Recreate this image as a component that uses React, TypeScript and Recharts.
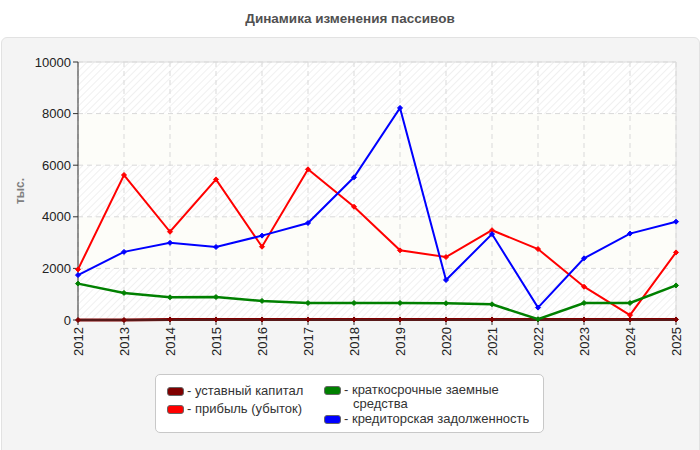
import React from 'react';
import { LineChart, Line, XAxis, YAxis, CartesianGrid, ReferenceLine } from 'recharts';

const years = ['2012', '2013', '2014', '2015', '2016', '2017', '2018', '2019', '2020', '2021', '2022', '2023', '2024', '2025'];
const capital = [0, 0, 20, 20, 20, 20, 20, 20, 20, 20, 20, 20, 20, 20];
const profit = [1960, 5620, 3420, 5450, 2840, 5840, 4390, 2700, 2440, 3480, 2750, 1290, 190, 2620];
const shortLoans = [1410, 1050, 880, 890, 740, 660, 660, 660, 650, 610, 30, 660, 660, 1340];
const payables = [1740, 2640, 2990, 2830, 3270, 3760, 5530, 8220, 1550, 3330, 480, 2390, 3350, 3810];
const yTicks = [0, 2000, 4000, 6000, 8000, 10000];

const series = [
  { key: 'capital', name: 'уставный капитал', color: '#800000', width: 3 },
  { key: 'profit', name: 'прибыль (убыток)', color: '#ff0000', width: 2 },
  { key: 'shortLoans', name: 'краткосрочные заемные средства', color: '#008000', width: 2.5 },
  { key: 'payables', name: 'кредиторская задолженность', color: '#0000ff', width: 2 },
];

const data = years.map((year, i) => ({
  year,
  capital: capital[i],
  profit: profit[i],
  shortLoans: shortLoans[i],
  payables: payables[i],
}));

const FONT = '"Liberation Sans", Arial, sans-serif';

// small diamond marker
const Diamond = (color: string) => (props: any) => {
  const { cx, cy, index } = props;
  if (cx == null || cy == null) return null;
  return (
    <path
      key={`d-${index}`}
      d={`M${cx},${cy - 2.5} L${cx + 2.5},${cy} L${cx},${cy + 2.5} L${cx - 2.5},${cy} Z`}
      fill={color}
      stroke={color}
    />
  );
};

const XTick = ({ x, y, payload }: any) => (
  <text
    x={x}
    y={y}
    transform={`rotate(-90, ${x}, ${y})`}
    textAnchor="end"
    dy="0.36em"
    fontSize={13}
    fill="#222"
    fontFamily={FONT}
  >
    {payload.value}
  </text>
);

const YLabel = () => (
  <text
    x={20}
    y={191}
    transform="rotate(-90, 20, 191)"
    textAnchor="middle"
    dominantBaseline="central"
    fontSize={12}
    fontWeight="bold"
    fill="#808080"
    fontFamily={FONT}
  >
    тыс.
  </text>
);

const Swatch = ({ color }: { color: string }) => (
  <div
    style={{
      width: 15,
      height: 7,
      background: color,
      border: '1px solid #666',
      borderRadius: 3,
      marginTop: 3,
      marginRight: 3,
      flex: 'none',
    }}
  />
);

const LegendItem = ({ color, lines, style }: any) => (
  <div style={{ display: 'flex', alignItems: 'flex-start', position: 'absolute', ...style }}>
    <Swatch color={color} />
    <div>
      {lines.map((l: string, i: number) => (
        <div key={i} style={{ paddingLeft: i > 0 ? 9 : 0, whiteSpace: 'nowrap' }}>
          {i === 0 ? '- ' + l : l}
        </div>
      ))}
    </div>
  </div>
);

export default function App() {
  return (
    <div style={{ position: 'absolute', left: 0, top: 0, width: 700, height: 450, background: '#fff', fontFamily: FONT, overflow: 'hidden' }}>
      <div style={{ position: 'absolute', left: 0, top: 11, width: 700, textAlign: 'center', fontSize: 13.5, fontWeight: 'bold', color: '#505050' }}>
        Динамика изменения пассивов
      </div>
      <div style={{ position: 'absolute', left: 1, top: 37, width: 697, height: 420, background: '#f4f4f4', border: '1px solid #e2e2e2', borderRadius: 6 }} />
      <div style={{ position: 'absolute', left: 0, top: 0 }}>
        <LineChart width={700} height={450} data={data} margin={{ top: 62, right: 24, bottom: 80, left: 18 }}>
          <defs>
            <pattern id="hatch" width="5" height="5" patternUnits="userSpaceOnUse" patternTransform="rotate(45)">
              <rect width="5" height="5" fill="#ffffff" />
              <line x1="0" y1="0" x2="0" y2="5" stroke="#ececec" strokeWidth="1.5" />
            </pattern>
          </defs>
          <CartesianGrid
            stroke="#d9d9d9"
            strokeDasharray="5 4"
            fill="transparent"
            horizontalFill={['url(#hatch)', '#fdfdf9']}
            fillOpacity={1}
          />
          <ReferenceLine y={10000} stroke="#dcdcdc" />
          <ReferenceLine x="2025" stroke="#dcdcdc" />
          <XAxis
            dataKey="year"
            interval={0}
            height={50}
            tick={<XTick />}
            tickSize={5}
            axisLine={{ stroke: '#333' }}
            tickLine={{ stroke: '#333' }}
          />
          <YAxis
            width={60}
            domain={[0, 10000]}
            ticks={yTicks}
            tickSize={5}
            tick={{ fontSize: 13, fill: '#222', fontFamily: FONT }}
            axisLine={{ stroke: '#333' }}
            tickLine={{ stroke: '#333' }}
            label={<YLabel />}
          />
          {series.map((s) => (
            <Line
              key={s.key}
              dataKey={s.key}
              name={s.name}
              stroke={s.color}
              strokeWidth={s.width}
              dot={Diamond(s.color)}
              activeDot={false}
              isAnimationActive={false}
            />
          ))}
        </LineChart>
      </div>
      <div style={{ position: 'absolute', left: 155, top: 374, width: 387, height: 57, background: '#fff', border: '1px solid #c8c8c8', borderRadius: 5, fontSize: 13, color: '#333', lineHeight: '14px' }}>
        <LegendItem color={series[0].color} lines={['уставный капитал']} style={{ left: 11, top: 9 }} />
        <LegendItem color={series[1].color} lines={['прибыль (убыток)']} style={{ left: 11, top: 27 }} />
        <LegendItem color={series[2].color} lines={['краткосрочные заемные', 'средства']} style={{ left: 168, top: 8 }} />
        <LegendItem color={series[3].color} lines={['кредиторская задолженность']} style={{ left: 168, top: 37 }} />
      </div>
    </div>
  );
}
